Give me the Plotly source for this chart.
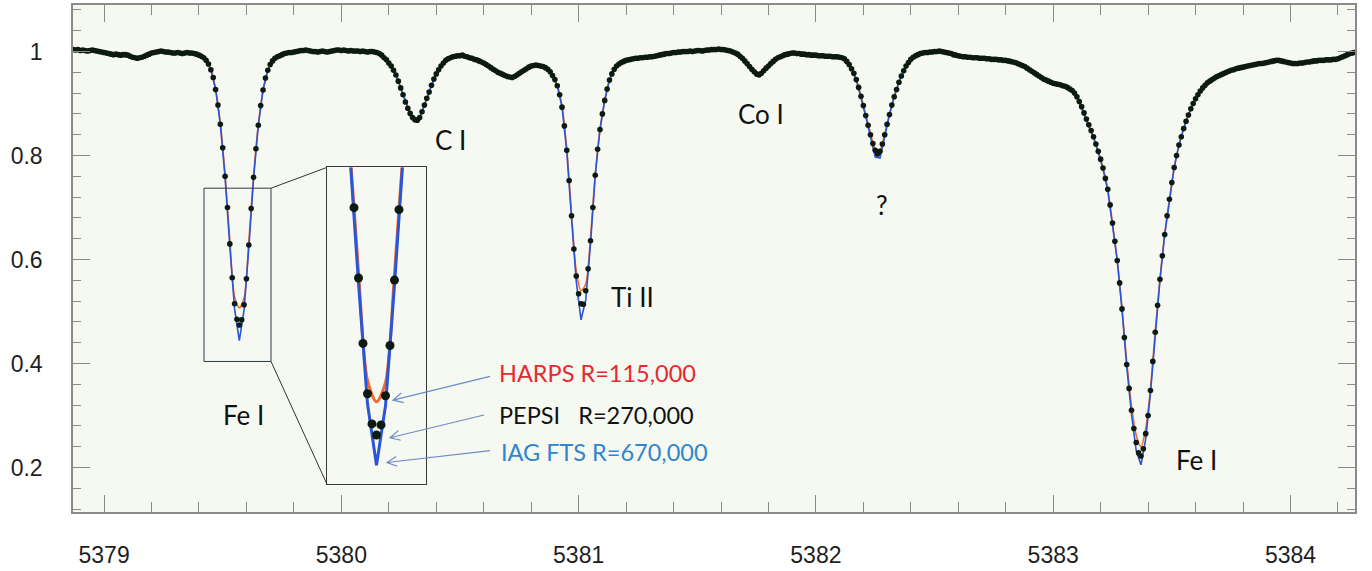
import math
import plotly.graph_objects as go

# ---------------- data ----------------
# PEPSI flux, sampled every 0.01 A starting at 5378.87 A
pepsi_flux = [
    1.004, 1.003, 1.004, 1.002, 1.003, 1.002, 1.001, 1.002, 1.003, 1.002,
    1.001, 1.000, 0.999, 0.998, 0.997, 0.996, 0.995, 0.994, 0.995, 0.994,
    0.993, 0.994, 0.994, 0.993, 0.991, 0.989, 0.988, 0.987, 0.988, 0.989,
    0.991, 0.993, 0.995, 0.997, 0.998, 0.999, 1.000, 1.001, 1.000, 0.999,
    0.999, 0.998, 0.997, 0.997, 0.998, 0.997, 0.996, 0.997, 0.998, 0.997,
    0.997, 0.996, 0.995, 0.993, 0.991, 0.988, 0.983, 0.976, 0.965, 0.950,
    0.927, 0.897, 0.860, 0.815, 0.760, 0.700, 0.630, 0.565, 0.515, 0.485,
    0.474, 0.484, 0.513, 0.563, 0.628, 0.698, 0.758, 0.813, 0.858, 0.896,
    0.926, 0.949, 0.964, 0.975, 0.982, 0.987, 0.990, 0.992, 0.994, 0.996,
    0.997, 0.998, 0.998, 0.999, 1.000, 1.001, 1.002, 1.002, 1.003, 1.002,
    1.001, 1.000, 1.000, 0.999, 1.000, 1.001, 1.000, 0.999, 1.000, 1.001,
    1.002, 1.003, 1.003, 1.002, 1.003, 1.002, 1.001, 1.002, 1.001, 1.001,
    1.001, 1.000, 1.001, 1.000, 0.999, 1.000, 1.000, 0.999, 0.998, 0.996,
    0.993, 0.988, 0.984, 0.978, 0.972, 0.964, 0.955, 0.943, 0.930, 0.917,
    0.903, 0.891, 0.881, 0.873, 0.869, 0.868, 0.873, 0.884, 0.897, 0.910,
    0.922, 0.935, 0.947, 0.957, 0.965, 0.972, 0.978, 0.983, 0.986, 0.988,
    0.990, 0.991, 0.992, 0.992, 0.993, 0.991, 0.990, 0.988, 0.987, 0.985,
    0.984, 0.982, 0.980, 0.978, 0.975, 0.972, 0.969, 0.966, 0.963, 0.960,
    0.958, 0.956, 0.954, 0.952, 0.951, 0.950, 0.952, 0.955, 0.958, 0.961,
    0.964, 0.967, 0.970, 0.972, 0.973, 0.974, 0.973, 0.972, 0.971, 0.969,
    0.966, 0.961, 0.954, 0.946, 0.934, 0.917, 0.893, 0.857, 0.810, 0.752,
    0.684, 0.620, 0.568, 0.534, 0.515, 0.514, 0.540, 0.582, 0.636, 0.700,
    0.762, 0.812, 0.850, 0.880, 0.906, 0.928, 0.945, 0.957, 0.966, 0.972,
    0.976, 0.979, 0.981, 0.983, 0.984, 0.985, 0.986, 0.987, 0.987, 0.988,
    0.988, 0.989, 0.989, 0.990, 0.990, 0.991, 0.992, 0.993, 0.994, 0.995,
    0.996, 0.996, 0.997, 0.998, 0.998, 0.999, 0.999, 1.000, 1.000, 1.000,
    1.001, 1.000, 1.001, 1.002, 1.002, 1.001, 1.002, 1.003, 1.003, 1.004,
    1.004, 1.004, 1.005, 1.004, 1.004, 1.003, 1.002, 1.001, 0.999, 0.997,
    0.995, 0.991, 0.987, 0.982, 0.977, 0.971, 0.966, 0.961, 0.957, 0.955,
    0.958, 0.963, 0.968, 0.972, 0.977, 0.981, 0.985, 0.988, 0.990, 0.992,
    0.994, 0.995, 0.996, 0.997, 0.997, 0.996, 0.996, 0.995, 0.995, 0.994,
    0.994, 0.993, 0.993, 0.993, 0.992, 0.992, 0.992, 0.991, 0.991, 0.991,
    0.990, 0.990, 0.990, 0.989, 0.988, 0.986, 0.981, 0.975, 0.967, 0.958,
    0.946, 0.931, 0.914, 0.896, 0.877, 0.858, 0.840, 0.823, 0.810, 0.803,
    0.808, 0.822, 0.840, 0.860, 0.879, 0.897, 0.913, 0.927, 0.941, 0.953,
    0.963, 0.972, 0.979, 0.985, 0.989, 0.992, 0.994, 0.996, 0.997, 0.998,
    0.998, 0.999, 0.999, 1.000, 1.000, 1.001, 1.000, 0.999, 0.998, 0.997,
    0.996, 0.994, 0.993, 0.992, 0.991, 0.990, 0.990, 0.989, 0.989, 0.988,
    0.988, 0.988, 0.987, 0.987, 0.987, 0.986, 0.986, 0.985, 0.985, 0.985,
    0.984, 0.984, 0.983, 0.983, 0.982, 0.981, 0.980, 0.979, 0.977, 0.975,
    0.973, 0.971, 0.968, 0.965, 0.962, 0.959, 0.956, 0.953, 0.950, 0.947,
    0.945, 0.943, 0.941, 0.939, 0.938, 0.937, 0.936, 0.934, 0.933, 0.931,
    0.928, 0.925, 0.920, 0.913, 0.904, 0.894, 0.882, 0.870, 0.859, 0.848,
    0.836, 0.822, 0.808, 0.793, 0.776, 0.756, 0.735, 0.705, 0.670, 0.635,
    0.598, 0.555, 0.505, 0.450, 0.398, 0.352, 0.310, 0.275, 0.248, 0.228,
    0.222, 0.236, 0.265, 0.300, 0.348, 0.404, 0.460, 0.512, 0.562, 0.607,
    0.648, 0.684, 0.716, 0.748, 0.777, 0.800, 0.820, 0.836, 0.852, 0.866,
    0.878, 0.890, 0.900, 0.909, 0.917, 0.924, 0.930, 0.935, 0.940, 0.943,
    0.946, 0.949, 0.952, 0.954, 0.956, 0.958, 0.960, 0.962, 0.964, 0.965,
    0.967, 0.968, 0.969, 0.970, 0.971, 0.972, 0.973, 0.974, 0.975, 0.976,
    0.977, 0.977, 0.978, 0.979, 0.980, 0.981, 0.982, 0.983, 0.983, 0.982,
    0.981, 0.980, 0.979, 0.978, 0.977, 0.977, 0.977, 0.978, 0.978, 0.979,
    0.980, 0.980, 0.981, 0.982, 0.982, 0.983, 0.983, 0.983, 0.984, 0.984,
    0.984, 0.985, 0.985, 0.986, 0.988, 0.990, 0.992, 0.994, 0.996, 0.997,
    0.998,
]

# IAG FTS flux, sampled every 0.02 A starting at 5378.87 A
iag_flux = [
    1.004, 1.004, 1.003, 1.001, 1.003, 1.001, 0.999, 0.997, 0.995, 0.995,
    0.993, 0.994, 0.991, 0.988, 0.988, 0.991, 0.995, 0.998, 1.000, 1.000,
    0.999, 0.997, 0.998, 0.996, 0.998, 0.997, 0.995, 0.991, 0.983, 0.965,
    0.927, 0.860, 0.758, 0.625, 0.505, 0.444, 0.503, 0.623, 0.756, 0.858,
    0.926, 0.964, 0.982, 0.990, 0.994, 0.997, 0.998, 1.000, 1.002, 1.003,
    1.001, 1.000, 1.000, 1.000, 1.000, 1.002, 1.003, 1.003, 1.001, 1.001,
    1.001, 1.001, 0.999, 1.000, 0.998, 0.993, 0.984, 0.972, 0.955, 0.930,
    0.903, 0.881, 0.868, 0.873, 0.897, 0.922, 0.947, 0.965, 0.978, 0.986,
    0.990, 0.992, 0.993, 0.990, 0.987, 0.984, 0.980, 0.975, 0.969, 0.963,
    0.958, 0.954, 0.951, 0.952, 0.958, 0.964, 0.970, 0.973, 0.973, 0.971,
    0.966, 0.954, 0.934, 0.893, 0.808, 0.680, 0.558, 0.484, 0.522, 0.630,
    0.762, 0.850, 0.906, 0.945, 0.966, 0.976, 0.981, 0.984, 0.986, 0.987,
    0.988, 0.989, 0.990, 0.992, 0.994, 0.996, 0.997, 0.998, 0.999, 1.000,
    1.001, 1.001, 1.002, 1.002, 1.003, 1.004, 1.005, 1.004, 1.002, 0.999,
    0.995, 0.987, 0.977, 0.965, 0.953, 0.956, 0.967, 0.977, 0.985, 0.990,
    0.994, 0.996, 0.997, 0.996, 0.995, 0.994, 0.993, 0.992, 0.992, 0.991,
    0.990, 0.990, 0.988, 0.981, 0.967, 0.946, 0.913, 0.875, 0.836, 0.797,
    0.795, 0.838, 0.878, 0.913, 0.941, 0.963, 0.979, 0.989, 0.994, 0.997,
    0.998, 0.999, 1.000, 1.000, 0.998, 0.996, 0.993, 0.991, 0.990, 0.989,
    0.988, 0.987, 0.987, 0.986, 0.985, 0.984, 0.983, 0.982, 0.980, 0.977,
    0.973, 0.968, 0.962, 0.956, 0.950, 0.945, 0.940, 0.936, 0.934, 0.931,
    0.926, 0.918, 0.902, 0.880, 0.857, 0.834, 0.806, 0.774, 0.733, 0.668,
    0.598, 0.503, 0.394, 0.303, 0.232, 0.205, 0.255, 0.343, 0.457, 0.560,
    0.648, 0.716, 0.777, 0.820, 0.852, 0.878, 0.900, 0.917, 0.930, 0.940,
    0.946, 0.952, 0.956, 0.960, 0.964, 0.967, 0.969, 0.971, 0.973, 0.975,
    0.977, 0.978, 0.980, 0.982, 0.983, 0.981, 0.979, 0.977, 0.977, 0.978,
    0.980, 0.981, 0.982, 0.983, 0.984, 0.984, 0.985, 0.988, 0.992, 0.996,
    0.998,
]

# HARPS flux, sampled every 0.02 A starting at 5378.87 A
harps_flux = [
    1.004, 1.004, 1.003, 1.001, 1.003, 1.001, 0.999, 0.997, 0.995, 0.995,
    0.993, 0.997, 0.991, 0.988, 0.988, 0.991, 0.995, 0.998, 1.000, 1.000,
    0.999, 0.997, 0.998, 0.996, 0.998, 0.997, 0.995, 0.991, 0.983, 0.966,
    0.928, 0.862, 0.763, 0.636, 0.528, 0.507, 0.526, 0.634, 0.761, 0.859,
    0.926, 0.964, 0.982, 0.990, 0.994, 0.997, 0.999, 1.001, 1.005, 1.003,
    1.001, 1.000, 1.000, 1.000, 1.000, 1.002, 1.003, 1.003, 1.001, 1.001,
    1.001, 1.001, 0.999, 1.000, 0.998, 0.993, 0.984, 0.972, 0.955, 0.930,
    0.904, 0.882, 0.871, 0.875, 0.897, 0.922, 0.947, 0.965, 0.978, 0.986,
    0.990, 0.992, 0.993, 0.990, 0.987, 0.984, 0.980, 0.975, 0.969, 0.963,
    0.958, 0.954, 0.951, 0.952, 0.958, 0.964, 0.970, 0.973, 0.973, 0.971,
    0.966, 0.954, 0.935, 0.895, 0.813, 0.688, 0.578, 0.540, 0.553, 0.642,
    0.763, 0.851, 0.906, 0.945, 0.966, 0.976, 0.981, 0.984, 0.986, 0.987,
    0.988, 0.989, 0.990, 0.992, 0.994, 0.996, 0.997, 0.998, 0.999, 1.000,
    1.001, 1.001, 1.002, 1.002, 1.003, 1.004, 1.005, 1.004, 1.002, 0.999,
    0.995, 0.987, 0.977, 0.966, 0.958, 0.959, 0.968, 0.977, 0.985, 0.990,
    0.994, 0.996, 0.997, 0.996, 0.995, 0.994, 0.993, 0.992, 0.992, 0.991,
    0.990, 0.990, 0.988, 0.981, 0.967, 0.946, 0.915, 0.879, 0.843, 0.813,
    0.811, 0.842, 0.880, 0.913, 0.941, 0.963, 0.979, 0.989, 0.994, 0.997,
    0.998, 0.999, 1.000, 1.000, 0.998, 0.996, 0.995, 0.994, 0.990, 0.989,
    0.988, 0.987, 0.987, 0.986, 0.985, 0.984, 0.983, 0.982, 0.980, 0.977,
    0.973, 0.968, 0.962, 0.956, 0.950, 0.945, 0.941, 0.938, 0.936, 0.933,
    0.928, 0.920, 0.904, 0.882, 0.859, 0.836, 0.808, 0.776, 0.735, 0.670,
    0.598, 0.507, 0.403, 0.318, 0.262, 0.240, 0.275, 0.352, 0.462, 0.563,
    0.648, 0.716, 0.777, 0.820, 0.852, 0.878, 0.900, 0.917, 0.930, 0.940,
    0.946, 0.952, 0.956, 0.960, 0.964, 0.967, 0.969, 0.971, 0.973, 0.975,
    0.977, 0.978, 0.980, 0.984, 0.983, 0.981, 0.979, 0.977, 0.977, 0.978,
    0.980, 0.981, 0.982, 0.983, 0.984, 0.984, 0.985, 0.988, 0.992, 0.996,
    0.998,
]

LAMBDA_START = 5378.87
pepsi_wavelength = [round(LAMBDA_START + 0.01 * i, 2) for i in range(len(pepsi_flux))]
line_wavelength = [round(LAMBDA_START + 0.02 * i, 2) for i in range(len(iag_flux))]

x_tick_vals = [5379, 5380, 5381, 5382, 5383, 5384]
x_tick_text = ["5379", "5380", "5381", "5382", "5383", "5384"]
y_tick_vals = [0.2, 0.4, 0.6, 0.8, 1.0]
y_tick_text = ["0.2", "0.4", "0.6", "0.8", "1"]

line_labels = ["C I", "Co I", "?", "Ti II", "Fe I", "Fe I"]
line_label_x = [5380.458, 5381.769, 5382.279, 5381.229, 5379.586, 5383.606]
line_label_y = [0.829, 0.880, 0.705, 0.528, 0.301, 0.215]

instrument_labels = ["HARPS R=115,000", "PEPSI   R=270,000", "IAG FTS R=670,000"]
instrument_colors = ["#e42a2f", "#111111", "#2f86cf"]

# ---------------- layout geometry ----------------
W, H = 1372, 571
ML, MR, MT, MB = 73, 17, 3, 56
PW, PH = W - ML - MR, H - MT - MB
X0, X1 = 5378.869, 5384.272
Y0, Y1 = 0.1143, 1.0895


def to_data(px, py):
    """pixel (page) -> main-axis data coordinates"""
    return (X0 + (px - ML) / PW * (X1 - X0), Y1 - (py - MT) / PH * (Y1 - Y0))


def to_paper_x(px):
    return (px - ML) / PW


def to_paper_y(py):
    return 1 - (py - MT) / PH


# inset box (pixels) and zoom rectangle (pixels)
IN_L, IN_R, IN_T, IN_B = 327, 426, 167, 487
ZB_L, ZB_R, ZB_T, ZB_B = 204, 271, 188, 363

BLUE = "#2b55d6"
ORANGE = "#f2682c"
DOTS = "#0c1a10"

fig = go.Figure()

# main panel
fig.add_trace(go.Scatter(x=line_wavelength, y=harps_flux, mode="lines",
                         line=dict(color=ORANGE, width=1.6, shape="spline", smoothing=0.8),
                         xaxis="x", yaxis="y", hoverinfo="skip"))
fig.add_trace(go.Scatter(x=line_wavelength, y=iag_flux, mode="lines",
                         line=dict(color=BLUE, width=1.6),
                         xaxis="x", yaxis="y", hoverinfo="skip"))
fig.add_trace(go.Scatter(x=pepsi_wavelength, y=pepsi_flux, mode="markers",
                         marker=dict(color=DOTS, size=5.6),
                         xaxis="x", yaxis="y", hoverinfo="skip"))

# inset panel
fig.add_trace(go.Scatter(x=line_wavelength, y=harps_flux, mode="lines",
                         line=dict(color=ORANGE, width=3, shape="spline", smoothing=0.8),
                         xaxis="x2", yaxis="y2", hoverinfo="skip"))
fig.add_trace(go.Scatter(x=line_wavelength, y=iag_flux, mode="lines",
                         line=dict(color=BLUE, width=3),
                         xaxis="x2", yaxis="y2", hoverinfo="skip"))
fig.add_trace(go.Scatter(x=pepsi_wavelength, y=pepsi_flux, mode="markers",
                         marker=dict(color=DOTS, size=9),
                         xaxis="x2", yaxis="y2", hoverinfo="skip"))

TICK_FONT = dict(family="Liberation Sans, Arial", size=23, color="#1e1e1e")
AXIS_GRAY = "#8a8a8a"

shapes = []
# zoom rectangle on the main panel
zx0, zy0 = to_data(ZB_L, ZB_B)
zx1, zy1 = to_data(ZB_R, ZB_T)
shapes.append(dict(type="rect", xref="x", yref="y", x0=zx0, x1=zx1, y0=zy0, y1=zy1,
                   line=dict(color="#2c3a48", width=1)))
# connector lines
for (ax_, ay_), (bx_, by_) in [((ZB_R, ZB_T), (IN_L, IN_T)), ((ZB_R, ZB_B), (IN_L, IN_B))]:
    a = to_data(ax_, ay_)
    b = to_data(bx_, by_)
    shapes.append(dict(type="line", xref="x", yref="y", x0=a[0], y0=a[1], x1=b[0], y1=b[1],
                       line=dict(color="#333333", width=1)))

# arrows (tail -> tip in pixels)
arrows = [((490, 378), (393, 402)), ((484, 417), (390, 440)), ((490, 453), (387, 465))]
ARROW_COLOR = "#6a8cc7"
for (tx, ty), (hx, hy) in arrows:
    dx, dy = tx - hx, ty - hy
    L = math.hypot(dx, dy)
    ux, uy = dx / L, dy / L
    ang = math.radians(27)
    hl = 11
    w1 = (hx + hl * (ux * math.cos(ang) - uy * math.sin(ang)),
          hy + hl * (ux * math.sin(ang) + uy * math.cos(ang)))
    w2 = (hx + hl * (ux * math.cos(-ang) - uy * math.sin(-ang)),
          hy + hl * (ux * math.sin(-ang) + uy * math.cos(-ang)))
    pts = [to_data(tx, ty), to_data(hx, hy), to_data(*w1), to_data(*w2)]
    path = (f"M {pts[0][0]},{pts[0][1]} L {pts[1][0]},{pts[1][1]} "
            f"M {pts[2][0]},{pts[2][1]} L {pts[1][0]},{pts[1][1]} L {pts[3][0]},{pts[3][1]}")
    shapes.append(dict(type="path", xref="x", yref="y", path=path,
                       line=dict(color=ARROW_COLOR, width=1.2)))

annotations = []
LABEL_FONT = dict(family="Lato, Open Sans, sans-serif", size=26, color="#111111")
for txt, lx, ly in zip(line_labels, line_label_x, line_label_y):
    annotations.append(dict(x=lx, y=ly, xref="x", yref="y", text=txt, showarrow=False,
                            xanchor="center", yanchor="middle", font=LABEL_FONT))

inst_px = [(497, 375), (497, 417), (499, 454)]
for txt, col, (px_, py_) in zip(instrument_labels, instrument_colors, inst_px):
    lx, ly = to_data(px_, py_)
    annotations.append(dict(x=lx, y=ly, xref="x", yref="y", text=txt.replace("   ", "&nbsp;&nbsp;&nbsp;"),
                            showarrow=False, xanchor="left", yanchor="middle",
                            font=dict(family="Lato, Open Sans, sans-serif", size=23.5, color=col)))

inset_x_range = [5379.46, 5379.68]
inset_y_range = [0.425, 0.74]

fig.update_layout(
    width=W, height=H,
    margin=dict(l=ML, r=MR, t=MT, b=MB),
    paper_bgcolor="white",
    plot_bgcolor="#f6f9f1",
    showlegend=False,
    xaxis=dict(range=[X0, X1], tickmode="array", tickvals=x_tick_vals, ticktext=x_tick_text,
               ticks="inside", ticklen=17, tickwidth=1, tickcolor=AXIS_GRAY,
               minor=dict(dtick=0.2, tick0=5379, ticks="inside", ticklen=10, tickwidth=1,
                          tickcolor=AXIS_GRAY, showgrid=False),
               showline=True, linecolor=AXIS_GRAY, linewidth=1.5, mirror="allticks",
               showgrid=False, zeroline=False, tickfont=TICK_FONT, ticklabelstandoff=22,
               domain=[0, 1], anchor="y"),
    yaxis=dict(range=[Y0, Y1], tickmode="array", tickvals=y_tick_vals, ticktext=y_tick_text,
               ticks="inside", ticklen=17, tickwidth=1, tickcolor=AXIS_GRAY,
               minor=dict(dtick=0.04, tick0=0.2, ticks="inside", ticklen=8, tickwidth=1,
                          tickcolor=AXIS_GRAY, showgrid=False),
               showline=True, linecolor=AXIS_GRAY, linewidth=1.5, mirror="allticks",
               showgrid=False, zeroline=False, tickfont=TICK_FONT, ticklabelstandoff=24,
               domain=[0, 1], anchor="x"),
    xaxis2=dict(range=inset_x_range, domain=[to_paper_x(IN_L), to_paper_x(IN_R)], anchor="y2",
                showticklabels=False, ticks="", showgrid=False, zeroline=False,
                showline=True, linecolor="#3a3a3a", linewidth=1, mirror=True),
    yaxis2=dict(range=inset_y_range, domain=[to_paper_y(IN_B), to_paper_y(IN_T)], anchor="x2",
                showticklabels=False, ticks="", showgrid=False, zeroline=False,
                showline=True, linecolor="#3a3a3a", linewidth=1, mirror=True),
    shapes=shapes,
    annotations=annotations,
)

fig.write_html("out.html")
